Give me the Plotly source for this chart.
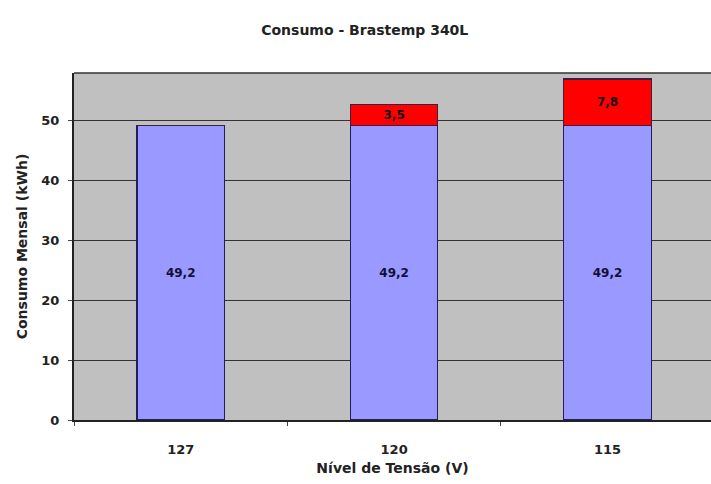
import plotly.graph_objects as go

# Monthly consumption by supply voltage level
voltages = ["127", "120", "115"]
base_kwh = [49.2, 49.2, 49.2]
extra_kwh = [0.0, 3.5, 7.8]

def br(v):
    return f"{v:.1f}".replace(".", ",")

font_family = "DejaVu Sans, Arial, sans-serif"
txt = "#222222"

fig = go.Figure()
fig.add_trace(go.Bar(
    x=voltages, y=base_kwh,
    marker=dict(color="#9999FF", line=dict(color="#1F1F5F", width=1.2)),
    text=[br(v) for v in base_kwh],
    textposition="inside", insidetextanchor="middle",
    texttemplate="<b>%{text}</b>",
    textfont=dict(family=font_family, size=12, color="#111133"),
    width=0.41, showlegend=False,
))
fig.add_trace(go.Bar(
    x=voltages, y=extra_kwh,
    marker=dict(color="#FF0000", line=dict(color="#3F1F3F", width=1.2)),
    text=[br(v) if v > 0 else "" for v in extra_kwh],
    textposition="inside", insidetextanchor="middle",
    texttemplate="<b>%{text}</b>",
    textfont=dict(family=font_family, size=12, color="#111111"),
    width=0.41, showlegend=False,
))

fig.update_layout(
    barmode="stack",
    width=711, height=484,
    margin=dict(l=74, r=0, t=73, b=64),
    paper_bgcolor="white",
    plot_bgcolor="#C0C0C0",
    uniformtext=dict(minsize=8, mode="show"),
    title=dict(
        text="<b>Consumo - Brastemp 340L</b>",
        x=0.513, xanchor="center", y=0.938, yanchor="middle",
        font=dict(family=font_family, size=14, color=txt),
    ),
    font=dict(family=font_family, size=12, color=txt),
)
fig.update_xaxes(
    type="category", range=[-0.5, 2.485],
    showline=True, linecolor="#222222", linewidth=2, mirror=False,
    ticks="outside", tickson="boundaries", ticklen=4, tickcolor="#444444",
    showgrid=False,
    tickprefix="<b>", ticksuffix="</b>",
    ticklabelstandoff=16,
    tickfont=dict(family=font_family, size=13, color=txt),
    title=dict(text="<b>Nível de Tensão (V)</b>", standoff=8,
               font=dict(family=font_family, size=14, color=txt)),
)
fig.update_yaxes(
    range=[0, 58], dtick=10,
    showline=True, linecolor="#222222", linewidth=2,
    ticks="outside", ticklen=4, tickcolor="#444444",
    showgrid=True, gridcolor="#333333", gridwidth=1,
    zeroline=False,
    tickprefix="<b>", ticksuffix="</b>",
    ticklabelstandoff=6,
    tickfont=dict(family=font_family, size=13, color=txt),
    title=dict(text="<b>Consumo Mensal (kWh)</b>", standoff=10,
               font=dict(family=font_family, size=14, color=txt)),
)
# Top border of the plot area
fig.add_shape(type="line", xref="paper", yref="paper", x0=0, x1=1, y0=1, y1=1,
              line=dict(color="#333333", width=1.5))

fig.write_html("out.html")
